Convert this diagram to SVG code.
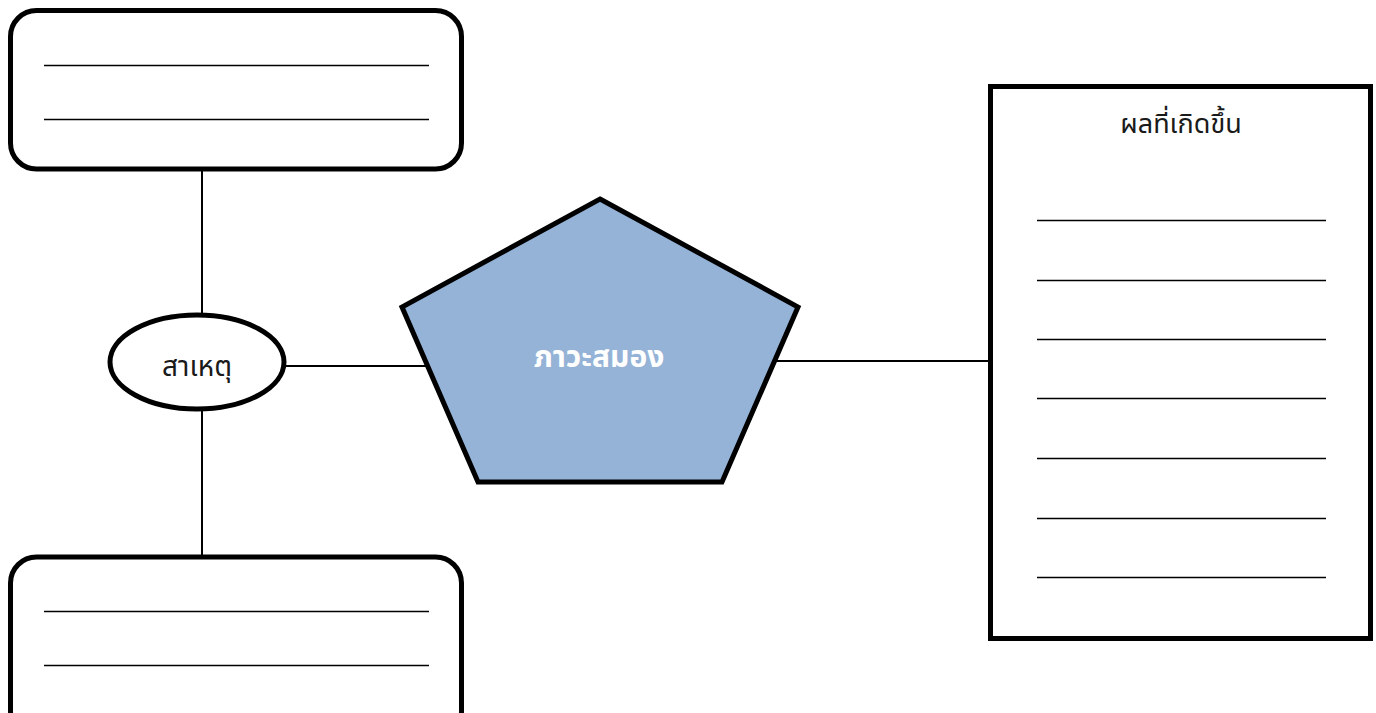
<svg xmlns="http://www.w3.org/2000/svg" width="1376" height="713" viewBox="0 0 1376 713">
<style>
.box{fill:#fff;stroke:#000;stroke-width:5}
.rule{stroke:#000;stroke-width:1.3}
.conn{stroke:#000;stroke-width:2;fill:none}
.t{font-family:"Noto Sans Thai","Noto Sans","DejaVu Sans",sans-serif;font-size:26px;text-anchor:middle;fill:#1a1a1a}
</style>
<rect width="1376" height="713" fill="#fff"/>
<g id="connectors">
<line class="conn" x1="202" y1="169" x2="202" y2="316"/>
<line class="conn" x1="202" y1="408" x2="202" y2="557"/>
<line class="conn" x1="284" y1="366" x2="428" y2="366"/>
<line class="conn" x1="776" y1="361" x2="989" y2="361"/>
</g>
<g id="top-box">
<rect class="box" x="10.5" y="10.5" width="451" height="158.5" rx="26"/>
<line class="rule" x1="44" y1="65.5" x2="429" y2="65.5"/>
<line class="rule" x1="44" y1="119.5" x2="429" y2="119.5"/>
</g>
<g id="bottom-box">
<rect class="box" x="10.5" y="557" width="451" height="180" rx="26"/>
<line class="rule" x1="44" y1="611.5" x2="429" y2="611.5"/>
<line class="rule" x1="44" y1="665.5" x2="429" y2="665.5"/>
</g>
<g id="cause">
<ellipse class="box" cx="197" cy="362" rx="87" ry="47"/>
<text class="t" x="197" y="376" style="font-size:28px">สาเหตุ</text>
</g>
<g id="brain">
<polygon points="600,199 798,307 722,482 478,482 402,307" fill="#95B3D7" stroke="#000" stroke-width="5" stroke-linejoin="miter"/>
<text class="t" x="599" y="367" style="fill:#fff;font-weight:bold;font-size:30px">ภาวะสมอง</text>
</g>
<g id="effects">
<rect class="box" x="990.5" y="86.5" width="380" height="552"/>
<text class="t" x="1181" y="133" style="font-size:27px">ผลที่เกิดขึ้น</text>
<line class="rule" x1="1037" y1="220.5" x2="1326" y2="220.5"/>
<line class="rule" x1="1037" y1="280.5" x2="1326" y2="280.5"/>
<line class="rule" x1="1037" y1="339.5" x2="1326" y2="339.5"/>
<line class="rule" x1="1037" y1="398.5" x2="1326" y2="398.5"/>
<line class="rule" x1="1037" y1="458.5" x2="1326" y2="458.5"/>
<line class="rule" x1="1037" y1="518.5" x2="1326" y2="518.5"/>
<line class="rule" x1="1037" y1="577.5" x2="1326" y2="577.5"/>
</g>
</svg>
